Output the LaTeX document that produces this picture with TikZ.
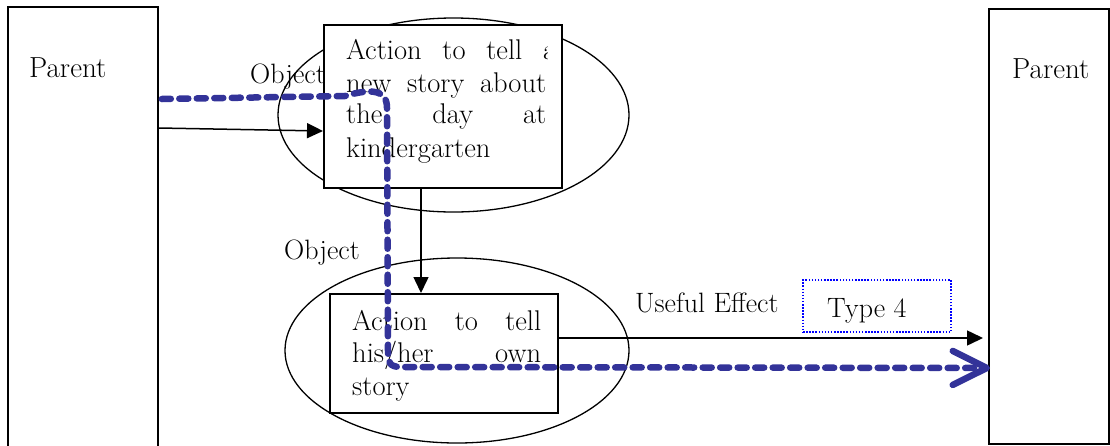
\documentclass[tikz,border=0pt]{standalone}
\usepackage{fontspec}
\usetikzlibrary{arrows.meta,shapes.geometric,calc}
\definecolor{pathblue}{RGB}{51,51,153}
\tikzset{
  lbl/.style={inner sep=0pt, anchor=base west, font=\fontsize{28}{32}\selectfont},
  boxtxt/.style={inner sep=0pt, anchor=base west, font=\fontsize{28.5}{32}\selectfont\addfontfeature{LetterSpace=10}},
  ptxt/.style={inner sep=0pt, anchor=base west, font=\fontsize{29}{32}\selectfont\addfontfeature{LetterSpace=18}},
  frame/.style={draw, line width=1.8pt, inner sep=0pt, anchor=north west},
  oval/.style={draw, ellipse, line width=1.3pt, inner sep=0pt},
  arr/.style={line width=1.5pt, -{Triangle[length=16pt,width=15pt]}},
  flow/.style={draw=pathblue, line width=6.5pt, line cap=round, line join=round, dash pattern=on 9pt off 8.5pt,
    -{Straight Barb[length=34pt,width=34pt,round]}},
}
\begin{document}
\begin{tikzpicture}[x=1pt,y=-1pt]
\useasboundingbox (0,0) rectangle (1110,445);
\clip (0,0) rectangle (1110,445);
% parent boxes
\node[frame, minimum width=150pt, minimum height=445pt] (pL) at (7,6) {};
\node[frame, minimum width=120pt, minimum height=435pt] (pR) at (988,8) {};
\node[ptxt] (tL) at (29,77) {Parent};
\node[ptxt] (tR) at (1012,78) {Parent};
% ellipses
\node[oval, minimum width=351pt, minimum height=194pt] (e1) at (453.5,115) {};
\node[oval, minimum width=344pt, minimum height=185pt] (e2) at (457,350.5) {};
% action boxes
\node[frame, fill=white, minimum width=238pt, minimum height=163pt] (b1) at (323,24) {};
\node[frame, fill=white, minimum width=228pt, minimum height=119pt] (b2) at (329,293) {};
% box texts
\begin{scope}
\clip (340,30) rectangle (547,180);
\node[boxtxt] (l11) at (346,59) {\makebox[210pt][s]{Action to tell a}};
\end{scope}
\node[boxtxt] (l12) at (346,92) {\makebox[200pt][s]{new story about}};
\node[boxtxt] (l13) at (346,123) {\makebox[200pt][s]{the day at}};
\node[boxtxt] (l14) at (346,157) {kindergarten};
\node[boxtxt] (l21) at (352,330) {\makebox[189pt][s]{Action to tell}};
\node[boxtxt] (l22) at (352,362) {\makebox[189pt][s]{his/her own}};
\node[boxtxt] (l23) at (352,395) {story};
% labels
\node[lbl] (ob1) at (250,83) {Object};
\node[lbl] (ob2) at (284,259) {Object};
\node[lbl] (ue) at (635,312) {Useful Effect};
\node[draw=blue, line width=1.5pt, dash pattern=on 1.5pt off 1.6pt, minimum width=148pt, minimum height=52pt, inner sep=0pt] (t4) at (877,306) {};
\node[lbl] (t4t) at (827,317) {Type 4};
% connectors
\coordinate (dv) at (421,0);
\coordinate (uh) at (0,338);
\draw[arr] (pL.east |- 0,128) -- (b1.west |- 0,131);
\draw[arr] (b1.south -| dv) -- (b2.north -| dv);
\draw[arr, shorten >=5pt] (b2.east |- uh) -- (pR.west |- uh);
% flow path
\draw[flow] ([xshift=3pt]pL.east |- 0,99) -- (345,96) .. controls (372,88) and (387,90) .. (387,108)
  -- (388,352) .. controls (388,366) and (392,367) .. (404,367) -- ([xshift=2pt]pR.west |- 0,368);
\end{tikzpicture}
\end{document}
